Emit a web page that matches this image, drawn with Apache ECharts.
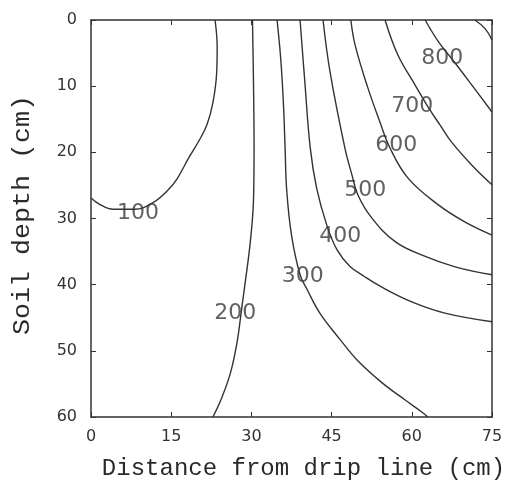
<!DOCTYPE html>
<html><head><meta charset="utf-8">
<script src="https://cdn.jsdelivr.net/npm/echarts@6/dist/echarts.min.js"></script>
<style>html,body{margin:0;padding:0;background:#fff}#c{width:508px;height:483px}</style>
</head><body><div id="c"></div>
<script>
// Axis ranges / ticks
const xRange = [0, 75];
const yRange = [0, 60];
const xStep = 15;
const yStep = 10;

// Contour levels and lines (x = distance cm, y = depth cm)
const levels = [100, 200, 300, 400, 500, 600, 700, 800, 900];
const c100 = [[0,26.9],[1.7,27.9],[4.1,28.6],[8.2,28.6],[11.6,27.6],[14.4,25.7],[16.1,24],[18.3,20.8],[20.3,18.1],[21.7,15.8],[22.8,12.5],[23.5,8],[23.6,4.1],[23.2,0]];
const c200 = [[30.2,0],[30.4,10],[30.5,19.3],[30.4,27],[29.8,33.5],[28.9,39.3],[28.2,43.5],[27.3,48.8],[26.1,53.3],[24.5,57],[22.8,60]];
const c300 = [[34.8,0],[35.5,6],[36,12.8],[36.3,19.3],[36.6,25.7],[37.5,32.5],[39.1,38.5],[40.4,40.7],[42.8,44.3],[46.6,48.3],[49.9,51.5],[54.4,54.8],[58.7,57.4],[61.8,59.2],[63,60]];
const c400 = [[39.1,0],[40,9.4],[41,19.3],[42.2,25.4],[44.1,31],[46,34.7],[48.4,37.2],[51.2,38.8],[54,40.2],[60,42.6],[66.2,44.3],[75,45.6]];
const c500 = [[43.4,0],[44.7,7.8],[47.5,19.4],[48.8,23.4],[49.9,26.4],[52.5,29.9],[56.9,33.5],[61.8,35.5],[68.1,37.3],[75,38.5]];
const c600 = [[48.6,0],[49.4,3.8],[51.8,10.3],[53.9,15.1],[55.9,19.3],[59.3,23.9],[64.9,27.9],[69.9,30.5],[75,32.5]];
const c700 = [[55,0],[57.4,5.3],[60.6,9.8],[63,13.1],[65.3,15.9],[67.3,18.3],[71.2,21.9],[75,24.9]];
const c800 = [[62.5,0],[65,3.3],[68.1,6.5],[71.2,9.8],[75,13.9]];
const c900 = [[71.8,0],[73.7,1.3],[75,3]];
const contours = [c100, c200, c300, c400, c500, c600, c700, c800, c900];

// Contour label anchors (data units)
const labelLevels = [100, 200, 300, 400, 500, 600, 700, 800];
const labelX = [8.8, 27.0, 39.6, 46.6, 51.3, 57.1, 60.1, 65.7];
const labelY = [29.2, 44.3, 38.7, 32.7, 25.8, 18.9, 13.0, 5.8];

const xTitle = 'Distance from drip line (cm)';
const yTitle = 'Soil depth (cm)';

const ink = '#333';
const tickFont = { fontFamily: 'DejaVu Sans', fontSize: 16, color: ink };

function xAxisCfg(pos, labels) {
  return {
    type: 'value', min: xRange[0], max: xRange[1], interval: xStep, position: pos,
    axisLine: { show: true, onZero: false, lineStyle: { color: ink, width: 1.5 } },
    axisTick: { show: true, inside: true, length: 5, lineStyle: { color: ink, width: 1 } },
    axisLabel: Object.assign({ show: labels, margin: 12 }, tickFont),
    splitLine: { show: false }
  };
}
function yAxisCfg(pos, labels) {
  return {
    type: 'value', min: yRange[0], max: yRange[1], interval: yStep, inverse: true, position: pos,
    axisLine: { show: true, onZero: false, lineStyle: { color: ink, width: 1.5 } },
    axisTick: { show: true, inside: true, length: 5, lineStyle: { color: ink, width: 1 } },
    axisLabel: Object.assign({ show: labels, margin: 14 }, tickFont),
    splitLine: { show: false }
  };
}

const xBottom = xAxisCfg('bottom', true);
xBottom.name = xTitle;
xBottom.nameLocation = 'middle';
xBottom.nameGap = 40;
xBottom.nameTextStyle = { fontFamily: 'Liberation Mono', fontSize: 24, color: '#2a2a2a', padding: [0, 0, 0, 24] };

const series = contours.map((pts, i) => ({
  type: 'line', name: String(levels[i]), data: pts, xAxisIndex: 0, yAxisIndex: 0,
  showSymbol: false, symbol: 'none', smooth: 0.4, clip: true,
  lineStyle: { color: ink, width: 1.4 }, silent: true, z: 3
}));
series.push({
  type: 'scatter', xAxisIndex: 0, yAxisIndex: 0, symbolSize: 0, silent: true, z: 5,
  data: labelLevels.map((v, i) => [labelX[i], labelY[i], v]),
  label: {
    show: true, position: 'inside', formatter: p => String(p.value[2]),
    fontFamily: 'DejaVu Sans', fontSize: 22, color: '#3a3a3a'
  }
});

const chart = echarts.init(document.getElementById('c'), null, { renderer: 'canvas' });
chart.setOption({
  animation: false,
  backgroundColor: '#fff',
  grid: { left: 91, top: 20, width: 401, height: 397, containLabel: false, outerBoundsMode: 'none' },
  xAxis: [xBottom, xAxisCfg('top', false)],
  yAxis: [yAxisCfg('left', true), yAxisCfg('right', false)],
  graphic: [{
    type: 'text', x: 23, y: 215, rotation: Math.PI / 2, scaleX: 1.11,
    style: { text: yTitle, font: '24px "Liberation Mono"', fill: '#2a2a2a', align: 'center', verticalAlign: 'middle', textAlign: 'center', textVerticalAlign: 'middle' }
  }],
  series: series
});
</script></body></html>
